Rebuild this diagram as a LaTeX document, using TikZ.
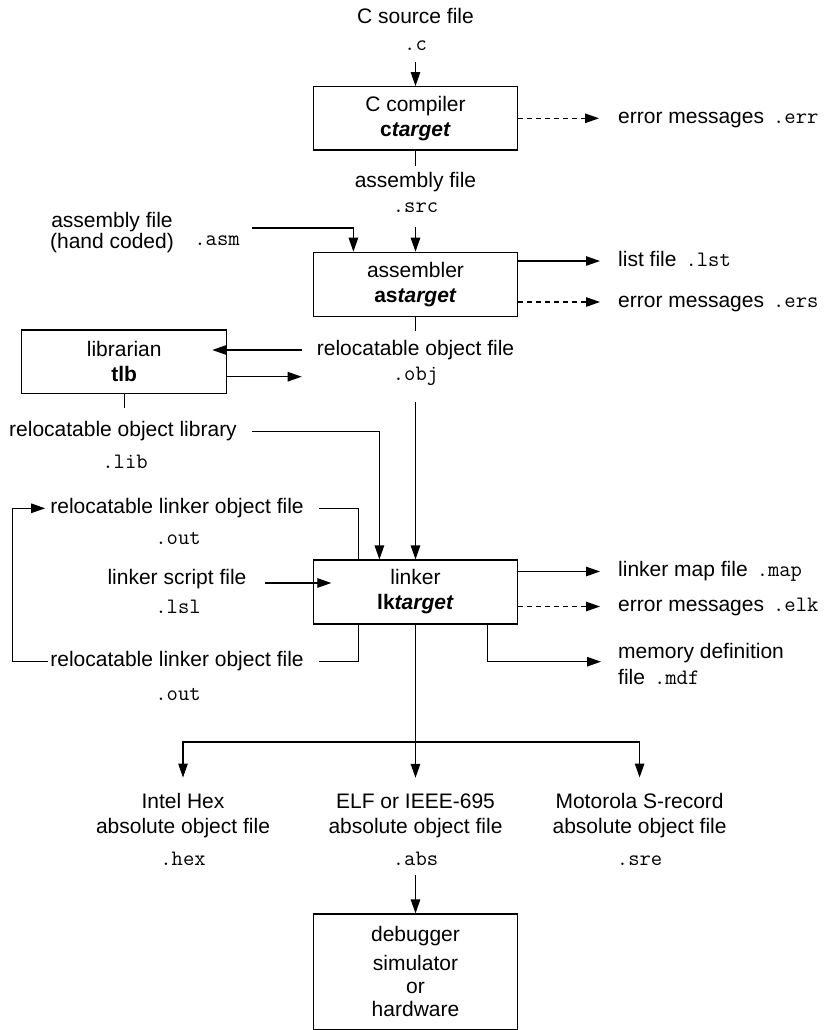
\documentclass[tikz,border=0pt]{standalone}
\usepackage{fontspec}
\setmainfont{Liberation Sans}
\usetikzlibrary{arrows.meta}
\newcommand\txtf{\fontsize{21}{25}\selectfont}
\newcommand\monof{\ttfamily\fontsize{22}{25}\selectfont}
\begin{document}
\begin{tikzpicture}[x=1pt,y=-1pt,
  box/.style={draw, line width=1.2pt, minimum width=204.4pt, align=center, inner sep=0pt, font=\txtf},
  lbl/.style={inner sep=0pt, text height=15pt, text depth=4.5pt, font=\txtf},
  ext/.style={inner sep=0pt, text height=15pt, text depth=4.5pt, font=\monof},
  multi/.style={inner sep=0pt, align=center, font=\txtf},
  conn/.style={line width=1.2pt},
  arr/.style={conn, -{Triangle[length=14pt,width=9.5pt]}},
  darr/.style={arr, dash pattern=on 5pt off 4pt}]
\useasboundingbox (0,0) rectangle (833,1030);

% C compiler stage
\node[lbl] (csrc) at (415.5,18.3) {C source file};
\node[ext] (cext) at (415.5,45) {.c};
\node[box, minimum height=63.3pt] (cc) at (415.5,118.3) {C compiler\\\textbf{c\textit{target}}};
\node[lbl, anchor=west] (cerr) at (618,118.3) {error messages\hspace{9pt}{\monof .err}};
\draw[arr] ([yshift=-7pt]cext.south) -- (cc.north);
\draw[darr, shorten >=19pt] (cc.east) -- (cerr.west);
\draw[conn] (cc.south) -- ([yshift=-15pt]cc.south);

% assembler stage
\node[lbl] (asf) at (415.5,182) {assembly file};
\node[ext] (src) at (415.5,207) {.src};
\node[multi, font=\fontsize{21}{21}\selectfont] (hand) at (112,233) {assembly file\\(hand coded)};
\node[ext] (asmx) at (217,240) {.asm};
\coordinate (hA) at (252,228);
\node[box, minimum height=64.4pt] (asmb) at (415.5,284.5) {assembler\\\textbf{as\textit{target}}};
\draw[arr] ([yshift=-10pt]src.south) -- (asmb.north);
\draw[arr] (hA) -| ([xshift=40.7pt]asmb.north west);
\node[lbl, anchor=west] (lst) at (618,261) {list file\hspace{9pt}{\monof .lst}};
\node[lbl, anchor=west] (ers) at (618,302) {error messages\hspace{9pt}{\monof .ers}};
\draw[arr, shorten >=18pt] (asmb.east |- lst.west) -- (lst.west);
\draw[darr, shorten >=18pt] (asmb.east |- ers.west) -- (ers.west);
\draw[conn] (asmb.south) -- ([yshift=-13.3pt]asmb.south);

% object file and librarian
\node[lbl] (relobj) at (415.5,350) {relocatable object file};
\node[ext] (obj) at (415.5,375) {.obj};
\node[box, minimum width=205pt, minimum height=63.3pt] (lib) at (124.2,361.7) {librarian\\\textbf{tlb}};
\coordinate (libout) at (301.7,376.7);
\draw[arr] ([xshift=-15pt]relobj.west) -- ([xshift=-15pt]relobj.west -| lib.east);
\draw[arr] ([yshift=-15pt]lib.east) -- (libout);
\draw[conn] (lib.south) -- ([yshift=-13.7pt]lib.south);
\node[lbl] (rellib) at (123,431.7) {relocatable object library};
\node[ext] (libx) at (125,463) {.lib};

% linker
\node[box, minimum height=64pt] (lnk) at (415.5,592) {linker\\\textbf{lk\textit{target}}};
\draw[arr] ([xshift=15pt]rellib.east) -| ([xshift=66.7pt]lnk.north west);
\draw[arr] ([yshift=-17pt]obj.south) -- (lnk.north);

\node[lbl] (rlo1) at (177,508.3) {relocatable linker object file};
\node[ext] (out1) at (178,539.3) {.out};
\node[lbl] (lsl) at (177,579) {linker script file};
\node[ext] (lslx) at (178,608.3) {.lsl};
\node[lbl] (rlo2) at (177,661.7) {relocatable linker object file};
\node[ext] (out2) at (178,695) {.out};
\draw[conn] ([xshift=15pt]rlo1.east) -| ([xshift=46pt]lnk.north west);
\draw[arr] ([xshift=18.6pt,yshift=-4pt]lsl.east) -- ([xshift=18.6pt,yshift=-4pt]lsl.east -| lnk.west);
\draw[conn] ([xshift=15pt]rlo2.east) -| ([xshift=46pt]lnk.south west);
\coordinate (loopb) at (12.3,661.7);
\coordinate (loopt) at (12.3,508.3);
\draw[arr] ([xshift=-2pt]rlo2.west) -- (loopb) -- (loopt) -- ([xshift=-5pt]rlo1.west);

\node[lbl, anchor=west] (map) at (618,571.5) {linker map file\hspace{9pt}{\monof .map}};
\node[lbl, anchor=west] (elk) at (618,606.5) {error messages\hspace{9pt}{\monof .elk}};
\node[inner sep=0pt, anchor=west, align=left, font=\fontsize{21}{26.7}\selectfont] (mdf) at (618,664) {memory definition\\file\hspace{9pt}{\monof .mdf}};
\draw[arr, shorten >=18pt] (lnk.east |- map.west) -- (map.west);
\draw[darr, shorten >=18pt] (lnk.east |- elk.west) -- (elk.west);
\coordinate (mdfin) at (601,661.7);
\draw[arr] ([xshift=-31pt]lnk.south east) |- (mdfin);

% outputs
\node[multi] (hex) at (183,816) {Intel Hex\\absolute object file};
\node[multi] (elf) at (415.5,816) {ELF or IEEE-695\\absolute object file};
\node[multi] (sre) at (639.6,816) {Motorola S-record\\absolute object file};
\node[ext] (hexx) at (183,860) {.hex};
\node[ext] (absx) at (415.5,860) {.abs};
\node[ext] (srex) at (639.6,860) {.sre};
\coordinate (bus) at (415.5,742);
\draw[arr, shorten >=16pt] (lnk.south) -- (elf.north);
\draw[arr, shorten >=16pt] (bus) -| (hex.north);
\draw[arr, shorten >=16pt] (bus) -| (sre.north);

% debugger
\node[box, minimum height=115.3pt, font=\fontsize{21}{23}\selectfont] (dbg) at (415.5,971.65) {debugger\\[6pt]simulator\\or\\hardware};
\draw[arr] ([yshift=-5pt]absx.south) -- (dbg.north);
\end{tikzpicture}
\end{document}
